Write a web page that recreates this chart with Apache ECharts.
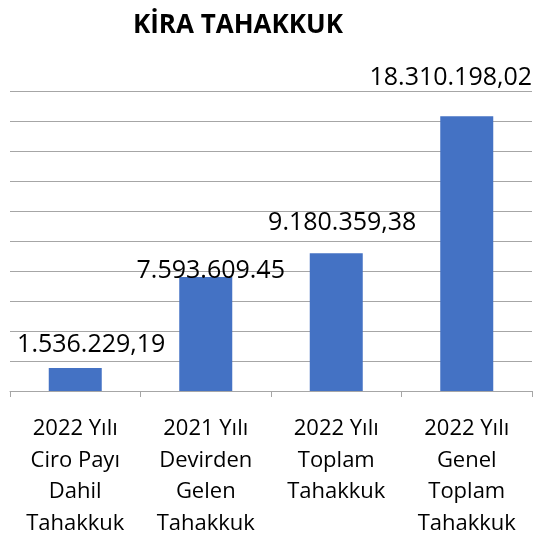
<!DOCTYPE html>
<html>
<head>
<meta charset="utf-8">
<title>KİRA TAHAKKUK</title>
<script src="https://cdn.jsdelivr.net/npm/echarts@6/dist/echarts.min.js"></script>
<style>
  html, body { margin: 0; padding: 0; background: #fff; }
  #chart { width: 538px; height: 539px; }
</style>
</head>
<body>
<div id="chart"></div>
<script>
// chart data
const categories = [
  '2022 Yılı\nCiro Payı\nDahil\nTahakkuk',
  '2021 Yılı\nDevirden\nGelen\nTahakkuk',
  '2022 Yılı\nToplam\nTahakkuk',
  '2022 Yılı\nGenel\nToplam\nTahakkuk'
]
const values = [1536229.19, 7593609.45, 9180359.38, 18310198.02]
const valueLabels = ['1.536.229,19', '7.593.609.45', '9.180.359,38', '18.310.198,02']

// labels were moved by hand in the original, so nudge each one
const labelOffsets = [[16, -11], [5, 6], [6, -18], [-16, -26]]

const font = '"Open Sans", "DejaVu Sans", sans-serif'

const mychart = echarts.init(document.getElementById('chart'))
mychart.setOption({
  animation: false,
  title: {
    text: 'KİRA TAHAKKUK',
    left: 233,
    top: 8,
    textAlign: 'center',
    textStyle: {
      color: '#000',
      fontFamily: font,
      fontWeight: 'bold',
      fontSize: 26
    }
  },
  grid: {
    left: 10,
    right: 6,
    top: 91,
    bottom: 143
  },
  xAxis: {
    type: 'category',
    data: categories,
    axisLine: {
      show: true,
      lineStyle: { color: '#a6a6a6', width: 1 }
    },
    axisTick: {
      show: true,
      length: 6,
      interval: 0,
      lineStyle: { color: '#a6a6a6' }
    },
    axisLabel: {
      interval: 0,
      margin: 22,
      color: '#000',
      fontFamily: font,
      fontSize: 22,
      lineHeight: 31.5
    }
  },
  yAxis: {
    type: 'value',
    min: 0,
    max: 20000000,
    interval: 2000000,
    axisLine: { show: false },
    axisTick: { show: false },
    axisLabel: { show: false },
    splitLine: {
      show: true,
      lineStyle: { color: '#a6a6a6', width: 1 }
    }
  },
  series: [
    {
      type: 'bar',
      barWidth: 53,
      itemStyle: { color: '#4472C4' },
      data: values.map((v, i) => ({
        value: v,
        label: {
          show: true,
          position: 'top',
          distance: 0,
          offset: labelOffsets[i],
          formatter: valueLabels[i],
          color: '#000',
          fontFamily: font,
          fontSize: 25
        }
      }))
    }
  ]
})
</script>
</body>
</html>
